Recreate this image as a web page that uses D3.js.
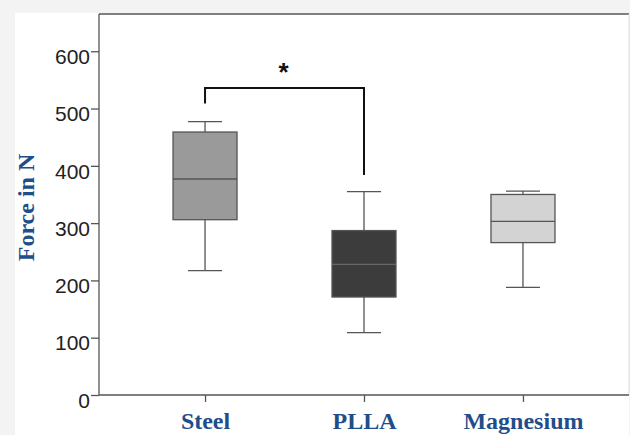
<!DOCTYPE html>
<html>
<head>
<meta charset="utf-8">
<script src="https://cdn.jsdelivr.net/npm/d3@7"></script>
<style>
	html, body { margin: 0; padding: 0; background: #f3f3f3; }
	svg { display: block; }
</style>
</head>
<body>
<svg width="630" height="435"></svg>
<script>

// box statistics
const groups = [ 'Steel', 'PLLA', 'Magnesium' ],
	mins = [ 217, 109, 188 ],
	q1s = [ 306, 171, 266 ],
	medians = [ 377, 228, 303 ],
	q3s = [ 459, 287, 350 ],
	maxs = [ 477, 355, 356 ],
	fills = [ '#9a9a9a', '#3c3c3c', '#d3d3d3' ],
	medianColors = [ '#555', '#666', '#555' ],
	yTicks = [ 0, 100, 200, 300, 400, 500, 600 ],
	// significance bracket: Steel vs PLLA
	bracket = { from: 'Steel', to: 'PLLA', top: 536, left: 509, right: 384, label: '*' }

const svg = d3.select( 'svg' ),
	width = +svg.attr( 'width' ),
	height = +svg.attr( 'height' ),
	margin = { top: 14, right: 1, bottom: 40, left: 99 },
	axisColor = '#555'

// white panel
svg.append( 'rect' )
	.attr( 'x', 15 )
	.attr( 'y', 13 )
	.attr( 'width', width - 16 )
	.attr( 'height', height - 13 )
	.attr( 'fill', '#fff' )

const x = d3.scalePoint()
	.domain( groups )
	.range( [ margin.left, width - margin.right ] )
	.padding( 0.667 )

const y = d3.scaleLinear()
	.domain( [ 0, 665 ] )
	.range( [ height - margin.bottom, margin.top ] )

// top frame line and light right edge
svg.append( 'line' )
	.attr( 'x1', margin.left ).attr( 'x2', width - margin.right )
	.attr( 'y1', margin.top ).attr( 'y2', margin.top )
	.attr( 'stroke', axisColor ).attr( 'stroke-width', 1.3 )

svg.append( 'line' )
	.attr( 'x1', width - margin.right ).attr( 'x2', width - margin.right )
	.attr( 'y1', margin.top ).attr( 'y2', height - margin.bottom )
	.attr( 'stroke', '#ddd' ).attr( 'stroke-width', 1 )

// y axis
const yAxis = svg.append( 'g' )
	.attr( 'transform', `translate(${margin.left},0)` )
	.call( d3.axisLeft( y ).tickValues( yTicks ).tickSize( 8 ).tickPadding( 1 ) )

yAxis.select( '.domain' )
	.attr( 'd', `M0,${margin.top}V${height - margin.bottom}` )
	.attr( 'stroke', axisColor ).attr( 'stroke-width', 1.3 )
yAxis.selectAll( '.tick line' ).attr( 'stroke', axisColor ).attr( 'stroke-width', 1.3 )
yAxis.selectAll( '.tick text' )
	.attr( 'font-family', 'Liberation Sans, Arial, sans-serif' )
	.attr( 'font-size', 21 )
	.attr( 'fill', '#222' )
	.attr( 'dy', '0.58em' )

// x axis
const xAxis = svg.append( 'g' )
	.attr( 'transform', `translate(0,${height - margin.bottom})` )
	.call( d3.axisBottom( x ).tickSize( 7 ).tickPadding( 10 ) )

xAxis.select( '.domain' )
	.attr( 'd', `M${margin.left},0H${width - margin.right}` )
	.attr( 'stroke', axisColor ).attr( 'stroke-width', 1.3 )
xAxis.selectAll( '.tick line' ).attr( 'stroke', axisColor ).attr( 'stroke-width', 1.3 )
xAxis.selectAll( '.tick text' )
	.attr( 'font-family', 'Liberation Serif, Times New Roman, serif' )
	.attr( 'font-weight', 'bold' )
	.attr( 'font-size', 24 )
	.attr( 'fill', '#1f4e8a' )

// y label
svg.append( 'text' )
	.attr( 'transform', `translate(34,${( margin.top + height - margin.bottom ) / 2 + 3}) rotate(-90)` )
	.attr( 'text-anchor', 'middle' )
	.attr( 'font-family', 'Liberation Serif, Times New Roman, serif' )
	.attr( 'font-weight', 'bold' )
	.attr( 'font-size', 24 )
	.attr( 'fill', '#1f4e8a' )
	.text( 'Force in N' )

// boxes
const boxW = 64,
	capW = 34,
	data = groups.map( ( g, i ) => ( {
		name: g, min: mins[ i ], q1: q1s[ i ], median: medians[ i ], q3: q3s[ i ], max: maxs[ i ],
		fill: fills[ i ], medianColor: medianColors[ i ]
	} ) )

const box = svg.append( 'g' )
	.selectAll( 'g' )
	.data( data )
	.enter()
	.append( 'g' )
	.attr( 'stroke', axisColor )
	.attr( 'stroke-width', 1.3 )

// whiskers
box.append( 'line' )
	.attr( 'x1', d => x( d.name ) ).attr( 'x2', d => x( d.name ) )
	.attr( 'y1', d => y( d.max ) ).attr( 'y2', d => y( d.q3 ) )
box.append( 'line' )
	.attr( 'x1', d => x( d.name ) ).attr( 'x2', d => x( d.name ) )
	.attr( 'y1', d => y( d.q1 ) ).attr( 'y2', d => y( d.min ) )
box.append( 'line' )
	.attr( 'x1', d => x( d.name ) - capW / 2 ).attr( 'x2', d => x( d.name ) + capW / 2 )
	.attr( 'y1', d => y( d.max ) ).attr( 'y2', d => y( d.max ) )
box.append( 'line' )
	.attr( 'x1', d => x( d.name ) - capW / 2 ).attr( 'x2', d => x( d.name ) + capW / 2 )
	.attr( 'y1', d => y( d.min ) ).attr( 'y2', d => y( d.min ) )

box.append( 'rect' )
	.attr( 'x', d => x( d.name ) - boxW / 2 )
	.attr( 'y', d => y( d.q3 ) )
	.attr( 'width', boxW )
	.attr( 'height', d => y( d.q1 ) - y( d.q3 ) )
	.attr( 'fill', d => d.fill )

box.append( 'line' )
	.attr( 'x1', d => x( d.name ) - boxW / 2 ).attr( 'x2', d => x( d.name ) + boxW / 2 )
	.attr( 'y1', d => y( d.median ) ).attr( 'y2', d => y( d.median ) )
	.attr( 'stroke', d => d.medianColor )

// significance bracket
const bx1 = x( bracket.from ), bx2 = x( bracket.to )
svg.append( 'path' )
	.attr( 'd', `M${bx1},${y( bracket.left )}V${y( bracket.top )}H${bx2}V${y( bracket.right )}` )
	.attr( 'fill', 'none' )
	.attr( 'stroke', '#111' )
	.attr( 'stroke-width', 2 )

svg.append( 'text' )
	.attr( 'x', ( bx1 + bx2 ) / 2 - 1 )
	.attr( 'y', y( bracket.top ) - 7 )
	.attr( 'text-anchor', 'middle' )
	.attr( 'font-family', 'Liberation Sans, Arial, sans-serif' )
	.attr( 'font-weight', 'bold' )
	.attr( 'font-size', 26 )
	.attr( 'fill', '#111' )
	.text( bracket.label )

</script>
</body>
</html>
